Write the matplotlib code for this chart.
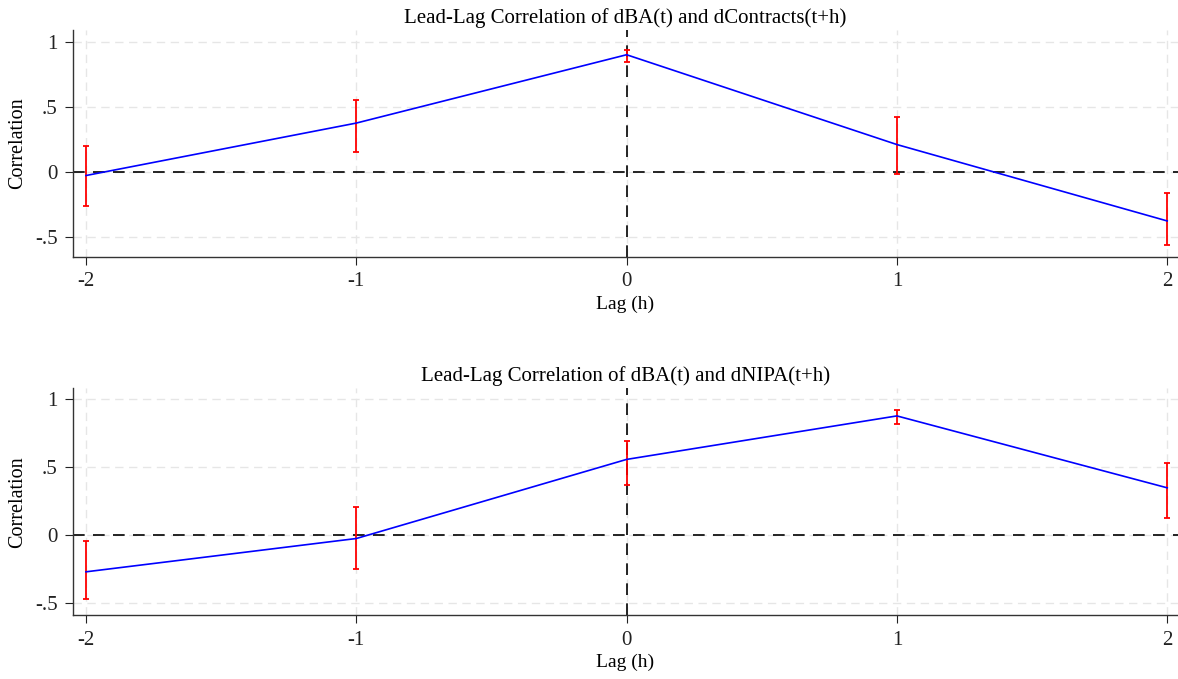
import matplotlib
matplotlib.use("Agg")
import matplotlib.pyplot as plt

plt.rcParams['font.family'] = ['Liberation Serif', 'DejaVu Serif']

# lags
lags = [-2, -1, 0, 1, 2]

# dBA vs dContracts
corr_contracts = [-0.028, 0.375, 0.90, 0.21, -0.377]
lo_contracts = [-0.26, 0.156, 0.846, -0.018, -0.56]
hi_contracts = [0.20, 0.556, 0.938, 0.418, -0.164]

# dBA vs dNIPA
corr_nipa = [-0.27, -0.025, 0.557, 0.877, 0.348]
lo_nipa = [-0.468, -0.252, 0.37, 0.821, 0.127]
hi_nipa = [-0.044, 0.206, 0.691, 0.924, 0.532]

yticks = [-0.5, 0, 0.5, 1]
ytick_labels = ['-.5', '0', '.5', '1']
xtick_labels = ['-2', '-1', '0', '1', '2']

titles = ['Lead-Lag Correlation of dBA(t) and dContracts(t+h)',
          'Lead-Lag Correlation of dBA(t) and dNIPA(t+h)']

fig = plt.figure(figsize=(11.78, 6.79), dpi=100)
ax1 = fig.add_axes([0.062, 0.6215, 0.938, 0.3343])
ax2 = fig.add_axes([0.062, 0.0938, 0.938, 0.3343])


def draw(ax, corr, lo, hi, title, ylim):
    grid_col = '#e6e6e6'
    for y in yticks:
        ax.axhline(y, color=grid_col, lw=1.0, ls=(0, (6, 4)), zorder=0)
    for x in lags:
        ax.axvline(x, color=grid_col, lw=1.0, ls=(0, (6, 4)), zorder=0)
    ax.axhline(0, color='black', lw=1.2, ls=(0, (7, 5)), zorder=1)
    ax.axvline(0, color='black', lw=1.2, ls=(0, (7, 5)), zorder=1)
    yerr = [[c - l for c, l in zip(corr, lo)], [h - c for c, h in zip(corr, hi)]]
    ax.errorbar(lags, corr, yerr=yerr, fmt='none', ecolor='red', elinewidth=1.3,
                capsize=2.2, capthick=1.3, zorder=3)
    ax.plot(lags, corr, color='blue', lw=1.2, zorder=4)
    ax.set_xlim(-2.048, 2.04)
    ax.set_ylim(*ylim)
    ax.set_yticks(yticks)
    ax.set_yticklabels(ytick_labels)
    ax.set_xticks(lags)
    ax.set_xticklabels(xtick_labels)
    ax.tick_params(labelsize=15, colors='#222222', length=6, width=0.8, pad=5)
    for s in ['top', 'right']:
        ax.spines[s].set_visible(False)
    for s in ['left', 'bottom']:
        ax.spines[s].set_color('#333333')
        ax.spines[s].set_linewidth(1.0)
    ax.set_title(title, fontsize=15, pad=5)
    ax.set_xlabel('Lag (h)', fontsize=14, labelpad=3)
    ax.set_ylabel('Correlation', fontsize=14.5, labelpad=6)


draw(ax1, corr_contracts, lo_contracts, hi_contracts, titles[0], (-0.654, 1.09))
draw(ax2, corr_nipa, lo_nipa, hi_nipa, titles[1], (-0.59, 1.08))

fig.savefig('out.png', dpi=100)
